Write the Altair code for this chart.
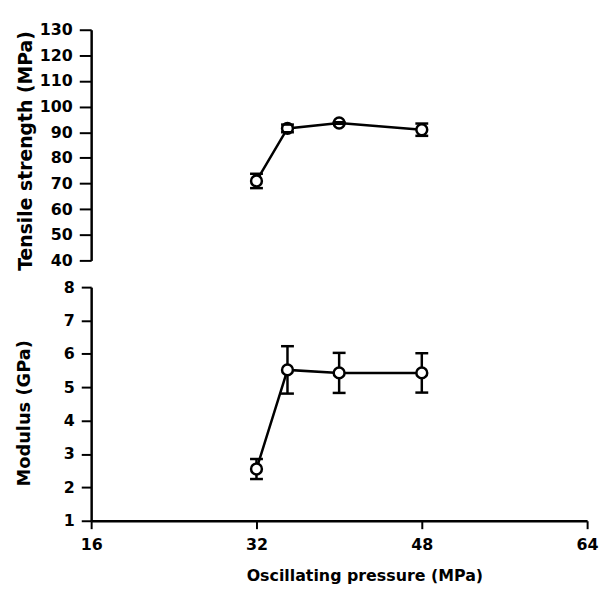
import altair as alt
import pandas as pd

pressure = [32, 35, 40, 48]
tensile = [71.0, 91.5, 93.6, 91.0]
tensile_err = [2.8, 1.5, 0.3, 2.4]
modulus = [2.55, 5.52, 5.43, 5.43]
modulus_err = [0.30, 0.71, 0.60, 0.59]

x_ticks = [16, 32, 48, 64]
ts_ticks = list(range(40, 131, 10))
mod_ticks = list(range(1, 9))

FONT = "DejaVu Sans"

top_df = pd.DataFrame({
    "p": pressure, "v": tensile,
    "lo": [v - e for v, e in zip(tensile, tensile_err)],
    "hi": [v + e for v, e in zip(tensile, tensile_err)],
})
bot_df = pd.DataFrame({
    "p": pressure, "v": modulus,
    "lo": [v - e for v, e in zip(modulus, modulus_err)],
    "hi": [v + e for v, e in zip(modulus, modulus_err)],
})

xscale = alt.Scale(domain=[16, 64], nice=False, zero=False)

def axis_y(values, title, tx, ty, tick, tsize):
    return alt.Axis(values=values, title=title, grid=False, domainColor="black",
                    domainWidth=2.5, tickColor="black", tickWidth=2, tickSize=tick,
                    labelOverlap=False, labelFlush=False,
                    labelFont=FONT, labelFontWeight="bold", labelFontSize=16,
                    labelColor="black", labelPadding=7,
                    titleFont=FONT, titleFontWeight="bold", titleFontSize=tsize,
                    titleColor="black", titleX=tx, titleY=ty, titleBaseline="middle",
                    titleAngle=270)

def panel(df, ydomain, yaxis, xaxis, height):
    base = alt.Chart(df)
    yscale = alt.Scale(domain=ydomain, nice=False, zero=False)
    xs = alt.X("p:Q", scale=xscale, axis=xaxis)
    def ys(f):
        return alt.Y(f, scale=yscale, axis=yaxis)
    line = base.mark_line(color="black", strokeWidth=2.5).encode(x=xs, y=ys("v:Q"))
    rule = base.mark_rule(color="black", strokeWidth=2.5).encode(
        x=xs, y=ys("lo:Q"), y2="hi:Q")
    cap_lo = base.mark_tick(color="black", orient="horizontal", size=13,
                            thickness=2.5, opacity=1).encode(x=xs, y=ys("lo:Q"))
    cap_hi = base.mark_tick(color="black", orient="horizontal", size=13,
                            thickness=2.5, opacity=1).encode(x=xs, y=ys("hi:Q"))
    pts = base.mark_point(shape="circle", size=120, filled=False, color="black",
                          strokeWidth=2.5, fill="white", fillOpacity=1,
                          opacity=1).encode(x=xs, y=ys("v:Q"))
    return alt.layer(line, rule, pts, cap_lo, cap_hi).properties(width=501, height=height)

x_axis = alt.Axis(values=x_ticks, title="Oscillating pressure (MPa)", grid=False,
                  domainColor="black", domainWidth=2.5, tickColor="black",
                  labelOverlap=False, labelFlush=False,
                  tickWidth=2, tickSize=8, labelFont=FONT, labelFontWeight="bold",
                  labelFontSize=16, labelColor="black", labelPadding=8,
                  titleFont=FONT, titleFontWeight="bold", titleFontSize=16,
                  titleColor="black", titleX=276, titleY=55, titleBaseline="middle")

top = panel(top_df, [40, 130],
            axis_y(ts_ticks, "Tensile strength (MPa)", -66, 122, 12, 19), None, 233)
bottom = panel(bot_df, [1, 8],
               axis_y(mod_ticks, "Modulus  (GPa)", -67, 127, 10, 18), x_axis, 236)

chart = alt.vconcat(top, bottom, spacing=27, bounds="flush").properties(
    padding={"left": 8, "top": 11, "right": 0, "bottom": 5},
    background="white"
).configure_view(stroke=None, strokeWidth=0)

chart.save("out.html", embed_options={"renderer": "svg", "actions": False})
